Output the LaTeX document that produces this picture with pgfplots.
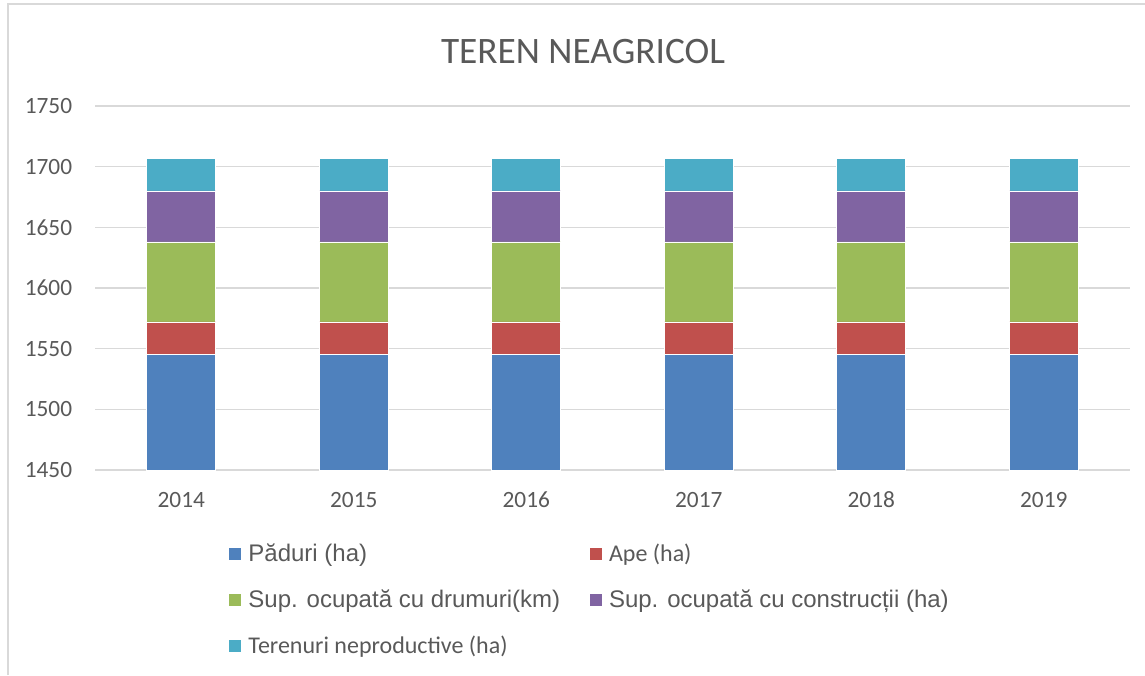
\documentclass[border=0pt]{standalone}
\usepackage{fontspec}
\setmainfont{Carlito}
\newfontfamily\arialf{Liberation Sans}
\usepackage{pgfplots}
\pgfplotsset{compat=1.18}
\definecolor{cpad}{HTML}{4F81BD}
\definecolor{cape}{HTML}{C0504D}
\definecolor{cdru}{HTML}{9BBB59}
\definecolor{ccon}{HTML}{8064A2}
\definecolor{cter}{HTML}{4BACC6}
\definecolor{txtgray}{HTML}{595959}
\definecolor{gridgray}{HTML}{D9D9D9}

\begin{document}
\begin{tikzpicture}
\path[use as bounding box] (0pt,0pt) rectangle (858.75pt,506.25pt);
\draw[gridgray, line width=1.2pt] (6pt,0pt) -- (6pt,503.25pt) -- (858.75pt,503.25pt);
\node[font=\fontsize{28}{33}\selectfont, text=txtgray] at (437.25pt,467.25pt) {TEREN NEAGRICOL};
\begin{axis}[
    at={(71.25pt,153.75pt)}, anchor=south west,
    width=776.25pt, height=273pt, scale only axis,
    ybar stacked, bar width=51.75pt,
    xmin=-0.5, xmax=5.5, ymin=1450, ymax=1750,
    xtick=data, xticklabels={2014,2015,2016,2017,2018,2019},
    ytick={1450,1500,...,1750},
    axis line style={draw=none}, major tick length=0pt,
    ymajorgrids, grid style={gridgray, line width=0.9pt},
    tick label style={font=\fontsize{17.5}{20}\selectfont, text=txtgray},
    /pgf/number format/assume math mode=true,
    yticklabel style={/pgf/number format/1000 sep={}, inner sep=0pt, xshift=-17pt},
    xticklabel style={inner sep=0pt, anchor=base, yshift=-28pt},
    legend columns=2,
    legend cell align=left,
    legend style={at={(axis description cs:0.1285,-0.196)}, anchor=north west,
        draw=none, fill=none, inner sep=0pt,
        font=\fontsize{18}{21}\selectfont, text=txtgray,
        /tikz/every even column/.append style={column sep=19.5pt},
        /tikz/every odd column/.append style={column sep=3pt},
        row sep=15.5pt},
    legend image code/.code={\fill[#1] (0pt,-4.9pt) rectangle (9.75pt,4.9pt);},
    every axis plot/.append style={draw=white, line width=0.4pt},
]
\addplot[fill=cpad] coordinates {(0,1545) (1,1545) (2,1545) (3,1545) (4,1545) (5,1545)};
\addlegendentry{\arialf Păduri (ha)}
\addplot[fill=cape] coordinates {(0,27) (1,27) (2,27) (3,27) (4,27) (5,27)};
\addlegendentry{Ape (ha)}
\addplot[fill=cdru] coordinates {(0,66) (1,66) (2,66) (3,66) (4,66) (5,66)};
\addlegendentry{\arialf Sup. ocupată cu drumuri(km)}
\addplot[fill=ccon] coordinates {(0,42) (1,42) (2,42) (3,42) (4,42) (5,42)};
\addlegendentry{\arialf Sup. ocupată cu construcții (ha)}
\addplot[fill=cter] coordinates {(0,27) (1,27) (2,27) (3,27) (4,27) (5,27)};
\addlegendentry{Terenuri neproductive (ha)}
\end{axis}
\end{tikzpicture}
\end{document}
